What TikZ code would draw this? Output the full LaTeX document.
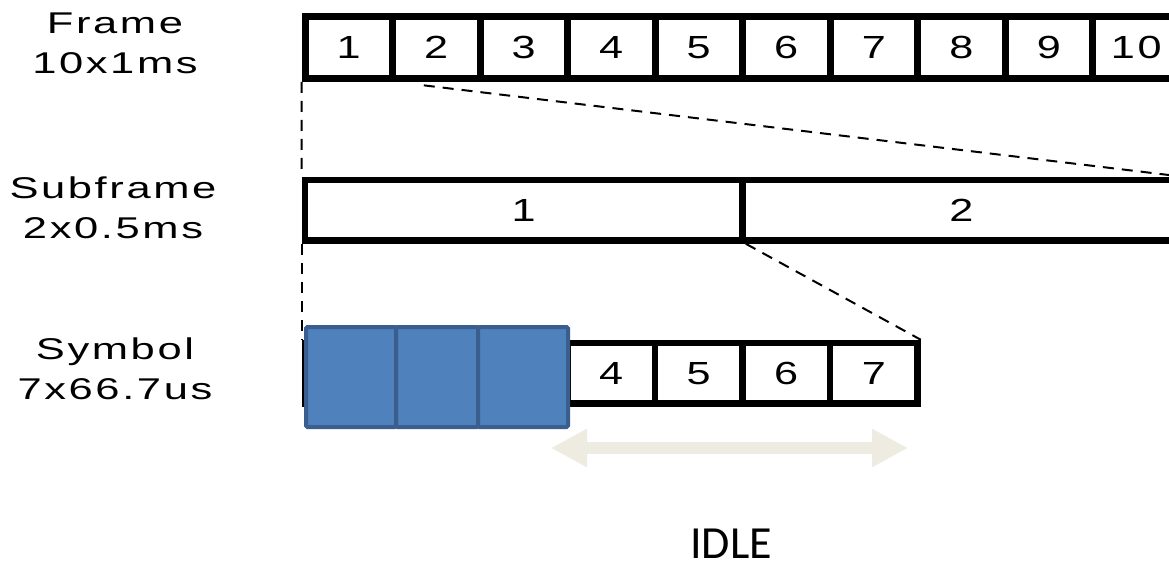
\documentclass[tikz,border=0pt]{standalone}
\usepackage{fontspec}
\usepackage{graphicx}
\setmainfont{Liberation Sans}
\newfontfamily\lblfont[LetterSpace=6]{Liberation Sans}
\newfontfamily\idlefont{Carlito}
\usetikzlibrary{arrows.meta}
\definecolor{boxblue}{HTML}{4F81BD}
\definecolor{boxblueedge}{HTML}{3A5F8E}
\definecolor{idlecol}{HTML}{EEECE1}
\newcommand\wtxt[1]{\scalebox{1.45}[1]{#1}}
\newcommand\wdig[1]{\scalebox{1.35}[1]{#1}}
\begin{document}
\begin{tikzpicture}[x=1pt,y=-1pt,
  cellbox/.style={draw=black, line width=7pt, fill=white, minimum width=87.5pt,
    minimum height=62pt, inner sep=0pt, font=\lblfont\fontsize{32}{36}\selectfont},
  subbox/.style={draw=black, line width=6.5pt, fill=white, minimum width=437.5pt,
    minimum height=60.5pt, inner sep=0pt, font=\lblfont\fontsize{32}{36}\selectfont},
  symbox/.style={draw=black, line width=6.5pt, fill=white, minimum width=87.5pt,
    minimum height=60.5pt, inner sep=0pt, font=\lblfont\fontsize{32}{36}\selectfont},
  bluebox/.style={draw=boxblueedge, fill=boxblue, line width=4pt, minimum height=100pt,
    inner sep=0pt, rounded corners=1.5pt},
  dashline/.style={draw=black, line width=2pt, dash pattern=on 11pt off 8pt},
  lbl/.style={align=center, inner sep=0pt, font=\lblfont\fontsize{30}{40}\selectfont},
  idlearrow/.style={draw=idlecol, line width=12pt,
    {Triangle[length=36pt,width=36pt]}-{Triangle[length=36pt,width=36pt]}}
]
\useasboundingbox (0,0) rectangle (1169,569);
\fill[white] (0,0) rectangle (1169,569);

% labels
\node[lbl] (lframe) at (115,43) {\wtxt{Frame}\\\wtxt{10x1ms}};
\node[lbl] (lsub) at (113,208) {\wtxt{Subframe}\\\wtxt{2x0.5ms}};
\node[lbl] (lsym) at (115,369) {\wtxt{Symbol}\\\wtxt{7x66.7us}};

% frame
\foreach \i in {1,...,10}
  \node[cellbox] (f\i) at ({305+(\i-0.5)*87.5},47.5) {\wdig{\i}};

% subframe
\node[subbox] (s1) at (523.75,210.25) {\wdig{1}};
\node[subbox] (s2) at (961.25,210.25) {\wdig{2}};

% symbols
\foreach \i in {1,2,3}
  \node[symbox] (y\i) at ({305+(\i-0.5)*87.5},373.25) {};
\foreach \i in {4,...,7}
  \node[symbox] (y\i) at ({305+(\i-0.5)*87.5},373.25) {\wdig{\i}};

% dashed connectors
\draw[dashline] (f1.south west) -- (s1.north west);
\draw[dashline, shorten <=28pt] (f1.south east) -- (s2.north east);
\draw[dashline] (s1.south west) -- (y1.north west);
\draw[dashline] (s1.south east) -- (y7.north east);

% blue symbols
\node[bluebox, minimum width=90pt] (b1) at (351,377) {};
\node[bluebox, minimum width=82pt] (b2) at (437,377) {};
\node[bluebox, minimum width=90pt] (b3) at (523,377) {};

% idle arrow
\coordinate (il) at (551,448);
\coordinate (ir) at (908,448);
\draw[idlearrow] (il) -- (ir);
\node[font=\idlefont\fontsize{46}{50}\selectfont, inner sep=0pt] (idle) at (731,544) {IDLE};
\end{tikzpicture}
\end{document}
